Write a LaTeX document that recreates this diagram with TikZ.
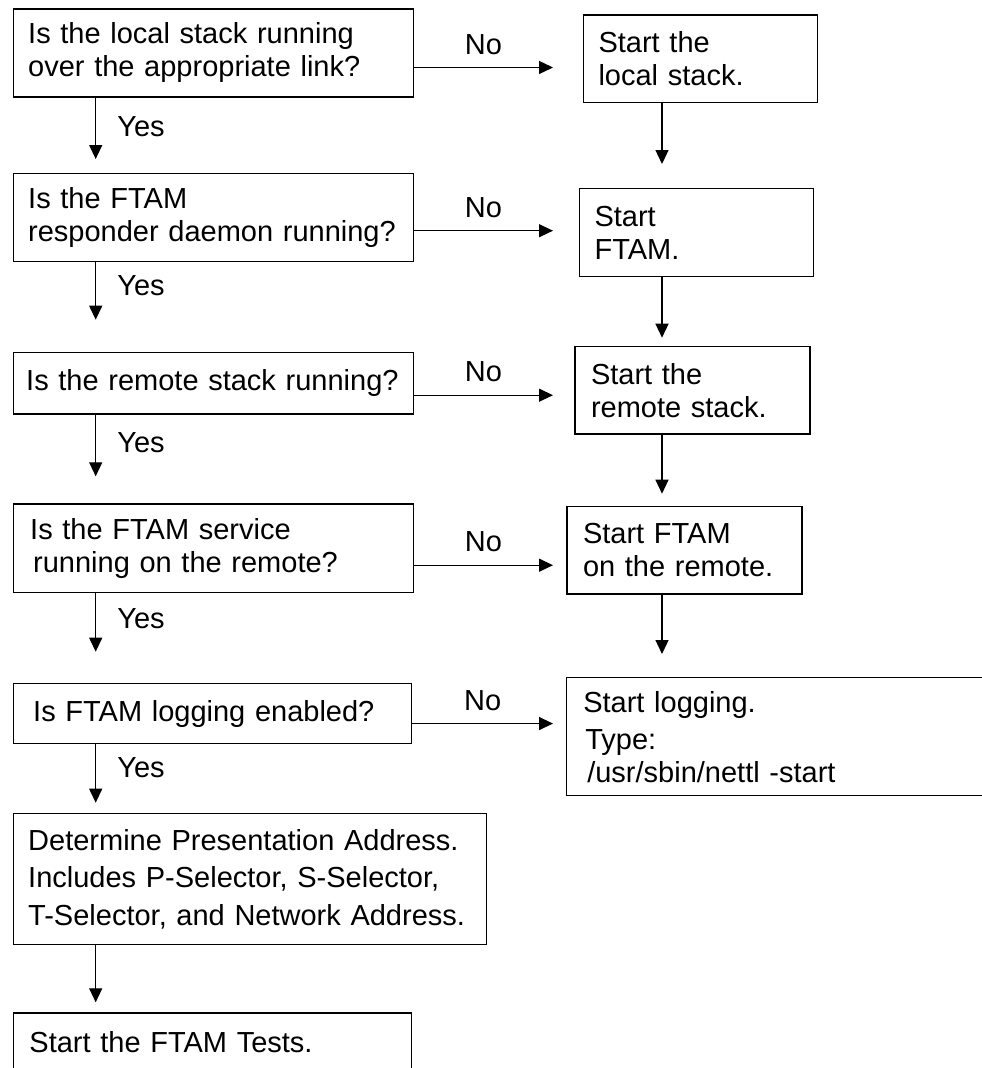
\documentclass[tikz,border=0pt]{standalone}
\usepackage{fontspec}
\setmainfont{Liberation Sans}
\usetikzlibrary{arrows.meta, positioning, calc}

\tikzset{
  stepbox/.style={draw, line width=1.4pt, anchor=north west, align=left,
    inner xsep=15pt, inner ysep=0pt, font=\fontsize{29}{33}\selectfont},
  flow/.style={-{Triangle[length=14pt, width=13pt]}, line width=1.3pt},
  lbl/.style={inner sep=0pt, font=\fontsize{29}{33}\selectfont}
}

\begin{document}
\begin{tikzpicture}[x=1pt, y=-1pt]
  \useasboundingbox (0,0) rectangle (982,1068);
  \clip (0,0) rectangle (982,1068);

  % Columns for the connectors
  \coordinate (yescol) at (95.7,0);
  \coordinate (nocol) at (553,0);
  \coordinate (startcol) at (662,0);

  % Questions
  \node[stepbox, minimum width=400, minimum height=88, text width=370] (q1) at (12.5,8.3)
    {Is the local stack running\\over the appropriate link?};
  \node[stepbox, minimum width=400, minimum height=88, text width=370] (q2) at (12.5,173)
    {Is the FTAM\\responder daemon running?};
  \node[stepbox, minimum width=400, minimum height=61.6, text width=380, inner xsep=10pt] (q3) at (12.5,351.7)
    {\hspace*{3pt}Is the remote stack running?};
  \node[stepbox, minimum width=400, minimum height=88.4, text width=366, inner xsep=17pt] (q4) at (12.5,503.3)
    {Is the FTAM service\\\hspace*{3pt}running on the remote?};
  \node[stepbox, minimum width=398.5, minimum height=60.3, text width=358.5, inner xsep=20pt] (q5) at (12.5,682.7)
    {Is FTAM logging enabled?};
  \node[stepbox, minimum width=473, minimum height=131.3, text width=443] (q6) at (12.5,812.7)
    {Determine Presentation Address.\\[4.5pt]Includes P-Selector, S-Selector,\\[4.5pt]T-Selector, and Network Address.};
  \node[stepbox, minimum width=398.5, minimum height=58, text width=366, inner xsep=16pt] (q7) at (12.5,1012.3)
    {Start the FTAM Tests.};

  % Actions
  \node[stepbox, minimum width=234.3, minimum height=87.7, text width=204] (s1) at (582.7,14.3)
    {Start the\\local stack.};
  \node[stepbox, minimum width=234.3, minimum height=88, text width=204] (s2) at (578.7,188)
    {Start\\FTAM.};
  \node[stepbox, minimum width=234.7, minimum height=87.6, text width=203, inner xsep=16pt] (s3) at (574.3,345.7)
    {Start the\\remote stack.};
  \node[stepbox, minimum width=234.7, minimum height=87.6, text width=203, inner xsep=16pt] (s4) at (566.3,505.7)
    {Start FTAM\\on the remote.};
  \node[stepbox, minimum width=450, minimum height=118, text width=416, inner xsep=17pt] (s5) at (565.6,677)
    {Start logging.\\[4pt]\hspace*{2pt}Type:\\\hspace*{4pt}/usr/sbin/nettl -start};

  % No branches
  \foreach \src/\dst/\dy in {q1/s1/14.5, q2/s2/13, q3/s3/12, q4/s4/17, q5/s5/10}
    \draw[flow] ([yshift=-\dy pt]\src.east) -- ([yshift=-\dy pt]\src.east -| nocol)
      node[lbl, midway, above=12.5pt] {No};

  % Yes branches
  \foreach \src/\dst/\gap/\p in {q1/q2/14/0.38, q2/q3/32/0.26, q3/q4/27/0.32, q4/q5/31/0.29, q5/q6/10/0.34}
    \draw[flow, shorten >=\gap pt] (\src.south -| yescol) -- (\dst.north -| yescol)
      node[lbl, pos=\p, right=21pt] {Yes};
  \draw[flow, shorten >=10pt] (q6.south -| yescol) -- (q7.north -| yescol);

  % Actions chain
  \foreach \src/\dst/\gap in {s1/s2/24, s2/s3/8, s3/s4/12, s4/s5/23}
    \draw[flow, shorten >=\gap pt] (\src.south -| startcol) -- (\dst.north -| startcol);
\end{tikzpicture}
\end{document}
